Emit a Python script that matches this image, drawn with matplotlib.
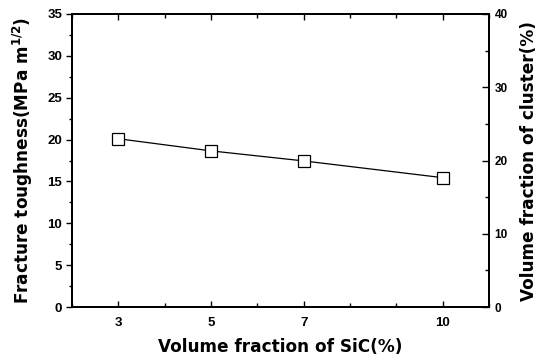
import numpy as np
import matplotlib
matplotlib.use("Agg")
import matplotlib.pyplot as plt
from matplotlib.ticker import MultipleLocator, FixedLocator

# data
sic = [3, 5, 7, 10]
toughness = [20.1, 18.65, 17.45, 15.45]
x_ticks = [3, 5, 7, 10]
x_minor = [2, 4, 6, 8, 9, 11]

plt.rcParams['font.family'] = ['Liberation Sans', 'DejaVu Sans']
plt.rcParams['font.weight'] = 'bold'
plt.rcParams['mathtext.fontset'] = 'dejavusans'

fig = plt.figure(figsize=(5.4, 3.56), dpi=100)
ax = fig.add_axes([0.1333, 0.1376, 0.7723, 0.8231])

ax.plot(sic, toughness, '-', color='black', lw=0.9, marker='s', markersize=8,
        markerfacecolor='white', markeredgecolor='black', markeredgewidth=0.9)

ax.set_xlim(2, 11)
ax.set_ylim(0, 35)
ax.xaxis.set_major_locator(FixedLocator(x_ticks))
ax.xaxis.set_minor_locator(FixedLocator(x_minor))
ax.yaxis.set_major_locator(MultipleLocator(5))
ax.yaxis.set_minor_locator(MultipleLocator(2.5))

for s in ax.spines.values():
    s.set_linewidth(1.4)

ax.tick_params(axis='x', which='both', direction='in', top=True, labelsize=9.5, width=1.0, pad=7)
ax.tick_params(axis='x', which='major', length=4)
ax.tick_params(axis='x', which='minor', length=3)
ax.tick_params(axis='y', which='both', direction='out', right=False, labelsize=9.5, width=1.0, pad=2.5)
ax.tick_params(axis='y', which='major', length=4.5)
ax.tick_params(axis='y', which='minor', length=2.5)

lab = dict(fontsize=12.2, fontweight='bold', family='DejaVu Sans')
ax.set_xlabel('Volume fraction of SiC(%)', **lab)
ax.set_ylabel('Fracture toughness(MPa m$^{\\mathbf{1/2}}$)', **lab)
ax.xaxis.set_label_coords(0.5, -0.105)
ax.yaxis.set_label_coords(-0.089, 0.5)

ax2 = ax.twinx()
ax2.set_ylim(0, 40)
ax2.yaxis.set_major_locator(MultipleLocator(10))
ax2.yaxis.set_minor_locator(MultipleLocator(5))
ax2.tick_params(axis='y', which='both', direction='in', labelsize=8.5, width=1.0, pad=4)
ax2.tick_params(axis='y', which='major', length=5)
ax2.tick_params(axis='y', which='minor', length=3)
for s in ax2.spines.values():
    s.set_linewidth(1.4)
ax2.set_ylabel('Volume fraction of cluster(%)', **lab)
ax2.yaxis.set_label_coords(1.074, 0.5)

fig.savefig('out.png', dpi=100)
